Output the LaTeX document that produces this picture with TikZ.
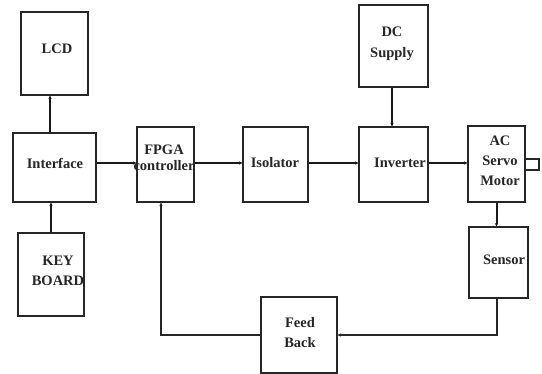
\documentclass[tikz,border=0pt]{standalone}
\usepackage{fontspec}
\setmainfont{Liberation Serif}
\usetikzlibrary{arrows.meta}
\begin{document}
\begin{tikzpicture}[x=1pt,y=-1pt,
  box/.style={draw=black!85,line width=1.1pt,minimum width=#1,inner sep=0pt},
  txt/.style={font=\fontsize{14.5}{16}\selectfont\bfseries,text=black!85,align=center,inner sep=0pt},
  conn/.style={draw=black!90,line width=2pt,-{Stealth[length=3.5pt,width=3.5pt]}},
  thin/.style={draw=black!85,line width=1.4pt,-{Stealth[length=3.5pt,width=3.5pt]}}]
\useasboundingbox (0,0) rectangle (542,374);
% boxes
\node[box=67pt,minimum height=83pt] (lcd) at (54.5,53.5) {};
\node[box=83pt,minimum height=69pt] (iface) at (54.5,167.5) {};
\node[box=66pt,minimum height=83pt] (kb) at (51,274.5) {};
\node[box=57pt,minimum height=75pt] (fpga) at (165.5,164.5) {};
\node[box=65pt,minimum height=75pt] (iso) at (275.5,164.5) {};
\node[box=69pt,minimum height=75pt] (inv) at (393.5,164.5) {};
\node[box=69pt,minimum height=82pt] (dc) at (393.5,46) {};
\node[box=57pt,minimum height=76pt] (motor) at (496.5,164) {};
\node[box=14pt,minimum height=11pt] (shaft) at (532,164.5) {};
\node[box=59pt,minimum height=71pt] (sensor) at (498.5,262.5) {};
\node[box=76pt,minimum height=76pt] (fb) at (299,335) {};
% texts
\node[txt] (tlcd) at (57,49) {LCD};
\node[txt] (tiface) at (55,163) {Interface};
\node[txt] (tkb) at (58,271) {KEY\\[4pt]BOARD};
\node[txt] (tfpga) at (164,157.5) {FPGA\\controller};
\node[txt] (tiso) at (275,163) {Isolator};
\node[txt] (tinv) at (400,163) {Inverter};
\node[txt] (tdc) at (392,44) {DC\\[5pt]Supply};
\node[txt] (tmot) at (500,161) {AC\\[4pt]Servo\\[4pt]Motor};
\node[txt] (tsen) at (504,260) {Sensor};
\node[txt] (tfb) at (300,332.5) {Feed\\[4pt]Back};
% connectors
\draw[conn] ([xshift=-4.5pt]iface.north) -- ([xshift=-4.5pt]iface.north |- lcd.south);
\draw[conn] (kb.north) -- (kb.north |- iface.south);
\draw[conn] ([yshift=4.5pt]iface.east) -- ([yshift=4.5pt]iface.east -| fpga.west);
\draw[conn] ([yshift=1.5pt]fpga.east) -- ([yshift=1.5pt]fpga.east -| iso.west);
\draw[conn] ([yshift=1.5pt]iso.east) -- ([yshift=1.5pt]iso.east -| inv.west);
\draw[conn] ([yshift=1.5pt]inv.east) -- ([yshift=1.5pt]inv.east -| motor.west);
\draw[conn] ([xshift=-1.5pt]dc.south) -- ([xshift=-1.5pt]inv.north);
\draw[conn] (motor.south) -- (motor.south |- sensor.north);
\draw[thin] ([xshift=-1.5pt]sensor.south) |- (fb.east);
\draw[thin] (fb.west) -| ([xshift=-4.5pt]fpga.south);
\end{tikzpicture}
\end{document}
